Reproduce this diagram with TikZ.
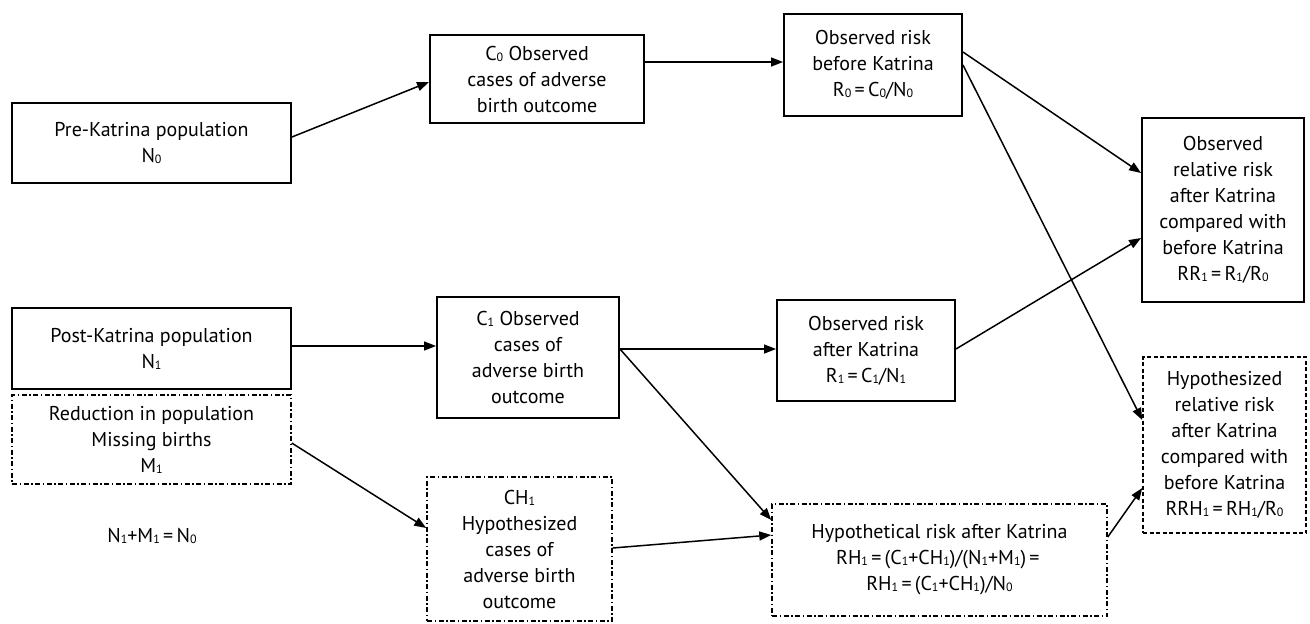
\documentclass[tikz,border=0pt]{standalone}
\usepackage{fontspec}
\setmainfont{PT Sans}
\usetikzlibrary{arrows.meta}
\newcommand{\sbs}[1]{\raisebox{-1pt}{\fontsize{12}{12}\selectfont #1}}
\newcommand{\eqs}{\,=\,}
\begin{document}
\begin{tikzpicture}[x=1pt,y=-1pt,
  box/.style={draw, line width=1.9pt, inner sep=0pt, align=center, font=\fontsize{20}{26}\selectfont},
  dbox/.style={box, line width=1.5pt, dash pattern=on 5pt off 2.5pt on 1.5pt off 2.5pt},
  hbox/.style={box, line width=1.5pt, dash pattern=on 4pt off 2.5pt},
  arr/.style={line width=1.5pt, -{Triangle[length=12pt,width=9pt]}}]
\useasboundingbox (0,0) rectangle (1310,624);

\node[box, minimum width=279pt, minimum height=80pt] (pre) at (151.5,143) {Pre-Katrina population\\N\sbs{0}};
\node[box, minimum width=279pt, minimum height=81pt] (post) at (151.5,348.5) {Post-Katrina population\\N\sbs{1}};
\node[dbox, minimum width=279pt, minimum height=89pt] (red) at (151.5,439.5) {Reduction in population\\Missing births\\M\sbs{1}};
\node[font=\fontsize{20}{26}\selectfont, anchor=base] (eq) at (152,542) {N\sbs{1}+M\sbs{1}\eqs N\sbs{0}};

\node[box, minimum width=214pt, minimum height=88pt] (c0) at (537,79) {C\sbs{0} Observed\\cases of adverse\\birth outcome};
\node[box, minimum width=182pt, minimum height=121pt] (c1) at (528,357.5) {C\sbs{1} Observed\\cases of\\adverse birth\\outcome};
\node[dbox, minimum width=185pt, minimum height=144pt] (ch1) at (519.5,549) {CH\sbs{1}\\Hypothesized\\cases of\\adverse birth\\outcome};

\node[box, minimum width=178pt, minimum height=102pt] (r0) at (873,65) {Observed risk\\before Katrina\\R\sbs{0}\eqs C\sbs{0}/N\sbs{0}};
\node[box, minimum width=178pt, minimum height=101pt] (r1) at (866,350.5) {Observed risk\\after Katrina\\R\sbs{1}\eqs C\sbs{1}/N\sbs{1}};
\node[dbox, minimum width=335pt, minimum height=112pt] (hyp) at (939.5,560) {Hypothetical risk after Katrina\\RH\sbs{1}\eqs(C\sbs{1}+CH\sbs{1})/(N\sbs{1}+M\sbs{1})\eqs\\RH\sbs{1}\eqs(C\sbs{1}+CH\sbs{1})/N\sbs{0}};

\node[box, minimum width=162pt, minimum height=184pt] (rr) at (1223,210) {Observed\\relative risk\\after Katrina\\compared with\\before Katrina\\RR\sbs{1}\eqs R\sbs{1}/R\sbs{0}};
\node[hbox, minimum width=163pt, minimum height=176pt] (hrr) at (1224.5,445) {Hypothesized\\relative risk\\after Katrina\\compared with\\before Katrina\\RRH\sbs{1}\eqs RH\sbs{1}/R\sbs{0}};

\draw[arr] ([yshift=6pt]pre.east) -- ([yshift=-3pt]c0.west);
\draw[arr] ([yshift=17pt]c0.east) -- ([yshift=3pt]r0.west);
\draw[arr] ([yshift=13pt]r0.east) -- ([yshift=37pt]rr.west);
\draw[arr] (r0.east) -- ([yshift=25pt]hrr.west);
\draw[arr] ([yshift=2.5pt]post.east) -- ([yshift=11.5pt]c1.west);
\draw[arr] ([yshift=8.5pt]c1.east) -- ([yshift=1.5pt]r1.west);
\draw[arr] ([yshift=8.5pt]c1.east) -- ([yshift=40pt]hyp.west);
\draw[arr] ([yshift=1.5pt]r1.east) -- ([yshift=-28pt]rr.west);
\draw[arr] ([yshift=-3.5pt]red.east) -- ([yshift=21pt]ch1.west);
\draw[arr] ([yshift=1pt]ch1.east) -- ([yshift=25pt]hyp.west);
\draw[arr] ([yshift=23pt]hyp.east) -- ([yshift=-43pt]hrr.west);
\end{tikzpicture}
\end{document}
